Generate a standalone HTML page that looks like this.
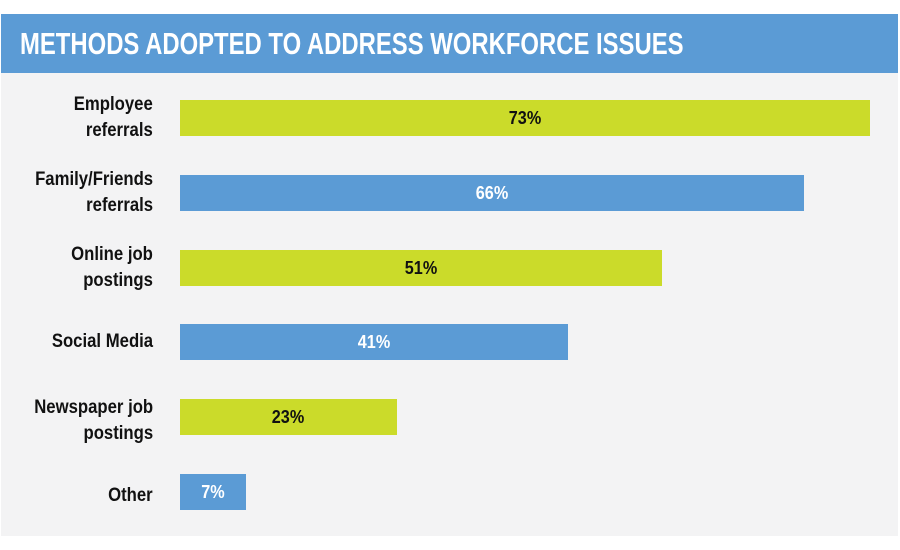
<!DOCTYPE html>
<html><head><style>
body{margin:0;width:900px;height:550px;background:#fff;position:relative;overflow:hidden;font-family:"Liberation Sans",sans-serif;font-weight:bold}
.panel{position:absolute;left:1px;top:73px;width:897px;height:463px;background:#f3f3f4}
.hdr{position:absolute;left:1px;top:14px;width:897px;height:59px;background:#5b9bd5}
.hdr span{position:absolute;left:19px;top:0;color:#fff;font-size:31px;line-height:59px;white-space:nowrap;transform:scaleX(0.77);transform-origin:0 50%}
.bar{position:absolute;left:180px;height:36px;text-align:center;line-height:36px;font-size:18px}
.bar span{display:inline-block;transform:scaleX(0.9)}
.g{background:#cbdb2a;color:#111}
.b{background:#5b9bd5;color:#fff}
.lab{position:absolute;right:747px;text-align:right;font-size:19px;line-height:26px;color:#111;transform:scaleX(0.88);transform-origin:100% 50%;white-space:nowrap}
</style></head><body>
<div class="panel"></div>
<div class="hdr"><span>METHODS ADOPTED TO ADDRESS WORKFORCE ISSUES</span></div>
<div class="lab" style="top:92px">Employee<br>referrals</div>
<div class="bar g" style="top:100px;width:690px"><span>73%</span></div>
<div class="lab" style="top:167px">Family/Friends<br>referrals</div>
<div class="bar b" style="top:175px;width:624px"><span>66%</span></div>
<div class="lab" style="top:242px">Online job<br>postings</div>
<div class="bar g" style="top:250px;width:482px"><span>51%</span></div>
<div class="lab" style="top:329px">Social Media</div>
<div class="bar b" style="top:324px;width:388px"><span>41%</span></div>
<div class="lab" style="top:395px">Newspaper job<br>postings</div>
<div class="bar g" style="top:399px;width:217px"><span>23%</span></div>
<div class="lab" style="top:483px">Other</div>
<div class="bar b" style="top:474px;width:66px"><span>7%</span></div>
</body></html>
